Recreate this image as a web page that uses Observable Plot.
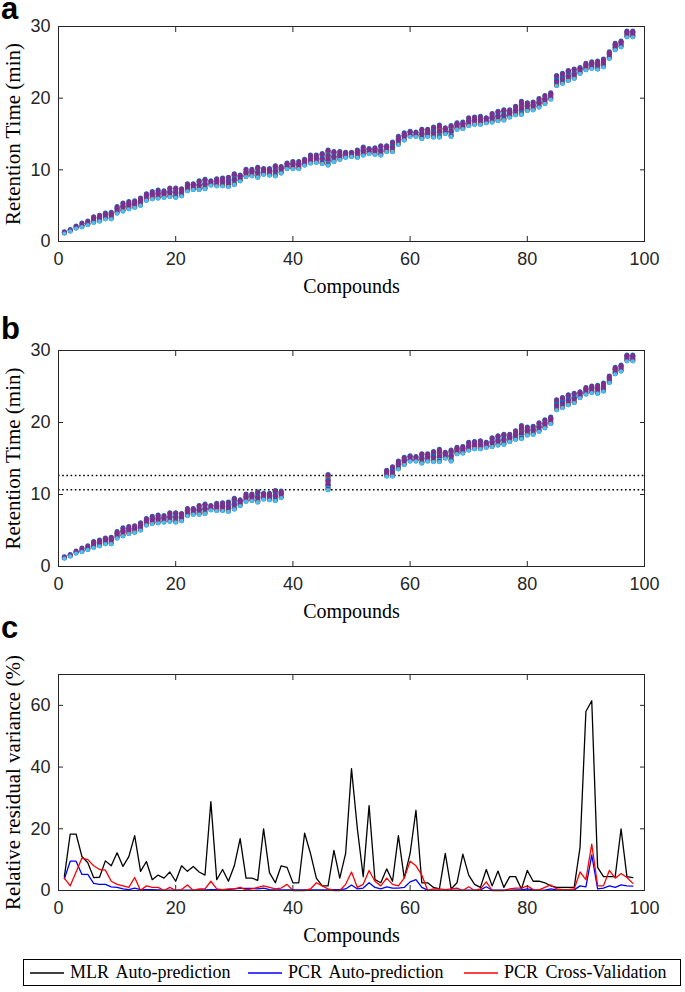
<!DOCTYPE html>
<html>
<head>
<meta charset="utf-8">
<script src="https://cdn.jsdelivr.net/npm/d3@7"></script>
<script src="https://cdn.jsdelivr.net/npm/@observablehq/plot@0.6"></script>
<style>
  body { margin: 0; background: #fff; }
  #root { position: relative; width: 685px; height: 992px; overflow: hidden; background: #fff; }
  .panel { position: absolute; left: 0; }
  .letter { position: absolute; left: 1px; font-family: "Liberation Sans", Arial, sans-serif; font-weight: bold; font-size: 31px; line-height: 0.6; color: #000; }
  #legend { position: absolute; left: 23px; top: 959px; width: 658px; height: 27px; border: 1px solid #000; box-sizing: border-box; font-family: "Liberation Serif", serif; font-size: 18px; word-spacing: 3px; color: #000; }
  #legend .it { position: absolute; top: 0; height: 25px; display: flex; align-items: center; white-space: nowrap; }
  #legend svg { margin-right: 6px; }
</style>
</head>
<body>
<div id="root">
  <div class="panel" id="pa" style="top:0px"></div>
  <div class="panel" id="pb" style="top:300px"></div>
  <div class="panel" id="pc" style="top:620px"></div>
  <div class="letter" style="top:0px">a</div>
  <div class="letter" style="top:320px">b</div>
  <div class="letter" style="top:619px">c</div>
  <div id="legend"></div>
</div>
<script>
// ---------------- DATA ----------------
const compounds = Array.from({length: 98}, (_, i) => i + 1);

// Retention time range per compound (min)
const rtMin = [1.1,1.4,1.8,2.0,2.3,2.6,2.8,3.1,3.1,3.9,4.2,4.5,4.7,5.0,5.7,5.9,6.0,6.1,6.2,6.1,
  6.3,7.0,7.2,7.2,7.3,7.8,7.7,7.7,7.6,7.9,8.4,9.0,9.1,8.9,9.3,9.2,9.1,9.5,10.1,10.1,
  10.1,10.6,10.9,11.0,10.8,10.6,11.1,11.4,11.7,11.8,11.7,12.0,12.2,12.1,12.0,12.5,12.5,13.5,14.1,14.6,
  14.6,14.3,14.6,14.5,14.5,15.0,14.6,15.6,15.7,16.1,16.3,16.3,16.5,16.6,16.8,16.9,17.3,17.6,17.7,18.2,
  18.3,18.7,19.2,19.8,21.7,22.0,22.4,22.7,23.4,23.9,24.1,24.0,24.3,25.5,26.7,27.1,28.5,28.5];
const rtMid = [1.2,1.5,1.9,2.2,2.5,3.0,3.2,3.5,3.6,4.3,4.8,5.0,5.2,5.5,6.2,6.4,6.5,6.6,6.8,6.8,
  6.8,7.5,7.6,7.8,8.0,8.1,8.2,8.2,8.2,8.6,8.8,9.5,9.6,9.6,9.7,9.6,9.8,10.0,10.5,10.6,
  10.6,11.0,11.4,11.4,11.5,11.6,11.8,11.9,12.1,12.1,12.2,12.5,12.6,12.6,12.6,12.9,13.1,14.1,14.6,14.9,
  14.9,15.0,15.1,15.1,15.4,15.4,15.4,16.0,16.1,16.6,16.8,16.8,16.8,17.2,17.4,17.6,17.8,18.2,18.6,18.8,
  18.9,19.3,19.7,20.2,22.3,22.6,23.0,23.2,23.8,24.3,24.5,24.6,24.8,25.9,27.1,27.5,28.9,28.9];
const rtMax = [1.3,1.6,2.1,2.5,2.8,3.4,3.6,3.9,4.0,4.8,5.3,5.5,5.6,6.0,6.6,6.9,7.1,7.0,7.4,7.4,
  7.3,8.0,8.0,8.4,8.6,8.4,8.7,8.8,8.9,9.4,9.2,10.0,10.0,10.3,10.1,10.1,10.5,10.4,10.9,11.1,
  11.1,11.4,12.0,12.0,12.2,12.7,12.5,12.5,12.4,12.4,12.7,13.1,12.9,13.0,13.3,13.3,13.8,14.6,15.1,15.3,
  15.2,15.6,15.6,15.9,16.2,15.8,16.1,16.5,16.6,17.2,17.3,17.4,17.2,17.8,18.1,18.3,18.3,18.8,19.5,19.3,
  19.4,19.9,20.3,20.7,23.1,23.4,23.8,24.0,24.2,24.8,25.0,25.1,25.4,26.4,27.6,27.9,29.3,29.3];

// Compounds left out in panel b and the band limits (dotted lines)
const excludedB = [39,40,41,42,43,44,45,47,48,49,50,51,52,53,54,55];
const bandB = [10.65, 12.64];

// Panel c: relative residual variance (%)
const mlrAuto = [4.5,18.3,18.3,11,9,4.2,4.3,9.6,8,12.2,7.8,11,17.8,6.2,9.4,3.5,5,4,6,3,
  8,6.2,7.8,6,5,28.8,3.5,6.8,3,8,16.8,4,4,3.3,20,5.8,2.5,8,7.5,2.5,
  2.5,18.6,12,4,1.5,1.5,13,4,12,39.5,20,4.5,27.5,3.5,2.5,7,3,17.8,4,12,
  26,2.5,2.5,1,0.5,12,0.5,2.5,11.8,5,2,1,6.8,1.5,6.3,1,4.5,4.5,0.5,6.5,
  3,3,2.5,1.5,1,1,1,1,14,58,61.5,7.5,4.5,4.5,4.5,20,4.5,4.2];
const pcrAuto = [3.8,9.5,9.5,5.2,5.2,2.3,2,2,1.2,1,0.5,0.3,0.8,0.3,0.3,0.3,0.2,0.1,0.1,0.1,
  0.1,0.1,0.1,0.2,0.2,0.3,0.3,0.3,0.3,0.5,0.7,0.7,0.7,0.5,0.8,0.3,0.2,0.2,0.2,0.2,
  0.2,0.2,0.2,0.2,0.2,0.2,0.3,0.3,0.5,1.8,0.5,0.8,2.5,1,0.5,1.2,0.8,0.8,1,2.8,
  3.5,1,0.1,0.1,0.1,0.1,0.1,0.1,0.1,0.1,0.1,0.2,1.2,0.1,0.1,0.1,0.1,0.2,0.2,0.5,
  0.2,0.1,0.1,0.5,0.2,0.2,0.2,0.2,1.5,1.2,11.5,0.5,0.8,1.5,1,1.8,1.5,1.4];
const pcrCV = [4,1.5,6,10.5,10,8,6.8,6.6,3,2,1.5,1,4.2,0,1.5,1,1,0,1,0,
  0.3,1.8,0,0.5,0.5,3,0.5,0.3,0.5,0.5,1,0.2,0.5,1,1.5,1,0.5,0.8,2,0,
  0,0,0.5,2.5,1.5,0.5,0,0,2,6,1,2,6.5,3,1.5,4,2,1.5,4,9.5,
  8,5,0,0.5,0.5,0.3,0.5,0.8,0,1.2,0,0.5,2.8,0,0,0,0.5,0.8,0.8,1.5,
  0.3,0.2,1,1.8,0.5,0.3,0.3,0.5,6,3.5,15,1.5,1.5,6.5,4,5.5,4.2,2.3];

const xTicks = [0, 20, 40, 60, 80, 100];
const rtTicks = [0, 10, 20, 30];
const varTicks = [0, 20, 40, 60];
const seriesNames = ["MLR Auto-prediction", "PCR Auto-prediction", "PCR Cross-Validation"];
const seriesColors = ["#000000", "#0000ff", "#ff0000"];

// ---------------- HELPERS ----------------
const sans = "'Liberation Sans', Arial, Helvetica, sans-serif";
const serif = "'Liberation Serif', 'Times New Roman', serif";
const axisColor = "#262626";

function frameMarks(yTicks, ylabel, ylabelDx) {
  return [
    Plot.frame({stroke: axisColor, strokeWidth: 1}),
    Plot.axisX(xTicks, {anchor: "bottom", tickSize: 0, tickPadding: 11, label: null, fontSize: 18, fill: axisColor}),
    Plot.axisX(xTicks, {anchor: "bottom", tickSize: -5, tickFormat: () => "", label: null, stroke: axisColor}),
    Plot.axisX(xTicks, {anchor: "top", tickSize: -5, tickFormat: () => "", label: null, stroke: axisColor}),
    Plot.axisY(yTicks, {anchor: "left", tickSize: 0, tickPadding: 8, label: null, fontSize: 18, fill: axisColor}),
    Plot.axisY(yTicks, {anchor: "left", tickSize: -5, tickFormat: () => "", label: null, stroke: axisColor}),
    Plot.axisY(yTicks, {anchor: "right", tickSize: -5, tickFormat: () => "", label: null, stroke: axisColor}),
    Plot.text(["Compounds"], {frameAnchor: "bottom", dy: 45, textAnchor: "middle", lineAnchor: "middle", fontFamily: serif, fontSize: 20, fill: "#000"}),
    Plot.text([ylabel], {frameAnchor: "left", dx: ylabelDx, rotate: -90, textAnchor: "middle", lineAnchor: "middle", fontFamily: serif, fontSize: 21, fill: "#000", style: "word-spacing:5px"})
  ];
}

function rtMarks(rows) {
  return [
    Plot.ruleX(rows, {x: "c", y1: "lo", y2: "hi", stroke: "#0072BD", strokeWidth: 5, strokeLinecap: "round"}),
    Plot.ruleX(rows, {x: "c", y1: "lo", y2: "hi", stroke: "#D95319", strokeWidth: 5, strokeDasharray: "1.6 2.4"}),
    Plot.ruleX(rows, {x: "c", y1: "lo", y2: "mid", stroke: "#4DBEEE", strokeWidth: 5, strokeDasharray: "1 4", strokeDashoffset: 2}),
    Plot.ruleX(rows, {x: "c", y1: "lo", y2: "hi", stroke: "#7E2F8E", strokeWidth: 5, strokeDasharray: "2 3", strokeDashoffset: 1.5}),
    Plot.dot(rows, {x: "c", y: "hi", r: 2.4, fill: "#7E2F8E"}),
    Plot.dot(rows, {x: "c", y: "mid", r: 2.4, fill: "#7E2F8E"}),
    Plot.dot(rows, {x: "c", y: "lo", r: 2.1, fill: "#4DBEEE"})
  ];
}

const rowsA = compounds.map((c, i) => ({c, lo: rtMin[i], mid: rtMid[i], hi: rtMax[i]}));
const rowsB = rowsA.filter(d => !excludedB.includes(d.c));

const baseStyle = {fontFamily: sans, fontSize: "18px", color: axisColor, background: "transparent", overflow: "visible"};

// Panel a
document.getElementById("pa").append(Plot.plot({
  width: 685, height: 300, marginTop: 26, marginBottom: 59, marginLeft: 58, marginRight: 41,
  x: {domain: [0, 100]}, y: {domain: [0, 30]},
  style: baseStyle,
  marks: [...rtMarks(rowsA), ...frameMarks(rtTicks, "Retention Time (min)", -45)]
}));

// Panel b
document.getElementById("pb").append(Plot.plot({
  width: 685, height: 320, marginTop: 50, marginBottom: 54, marginLeft: 58, marginRight: 41,
  x: {domain: [0, 100]}, y: {domain: [0, 30]},
  style: baseStyle,
  marks: [
    Plot.ruleY(bandB, {stroke: "#000", strokeWidth: 1.6, strokeDasharray: "1.6 2.6"}),
    ...rtMarks(rowsB),
    ...frameMarks(rtTicks, "Retention Time (min)", -45)
  ]
}));

// Panel c
const rowsC = [];
[mlrAuto, pcrAuto, pcrCV].forEach((arr, k) => arr.forEach((v, i) => rowsC.push({c: compounds[i], v, s: seriesNames[k]})));
document.getElementById("pc").append(Plot.plot({
  width: 685, height: 310, marginTop: 54, marginBottom: 40, marginLeft: 58, marginRight: 41,
  x: {domain: [0, 100]}, y: {domain: [0, 70]},
  color: {domain: seriesNames, range: seriesColors},
  style: baseStyle,
  marks: [
    Plot.line(rowsC, {x: "c", y: "v", z: "s", stroke: "s", strokeWidth: 1.3}),
    ...frameMarks(varTicks, "Relative residual variance (%)", -45)
  ]
}));

// Legend
const legend = document.getElementById("legend");
const legendPos = [[6, 34], [224, 34], [440, 34]];
seriesNames.forEach((name, k) => {
  const it = document.createElement("div");
  it.className = "it";
  it.style.left = legendPos[k][0] + "px";
  const w = legendPos[k][1];
  it.innerHTML = `<svg width="${w}" height="10"><line x1="0" x2="${w}" y1="5" y2="5" stroke="${seriesColors[k]}" stroke-width="1.3"/></svg><span>${name}</span>`;
  legend.append(it);
});
</script>
</body>
</html>
